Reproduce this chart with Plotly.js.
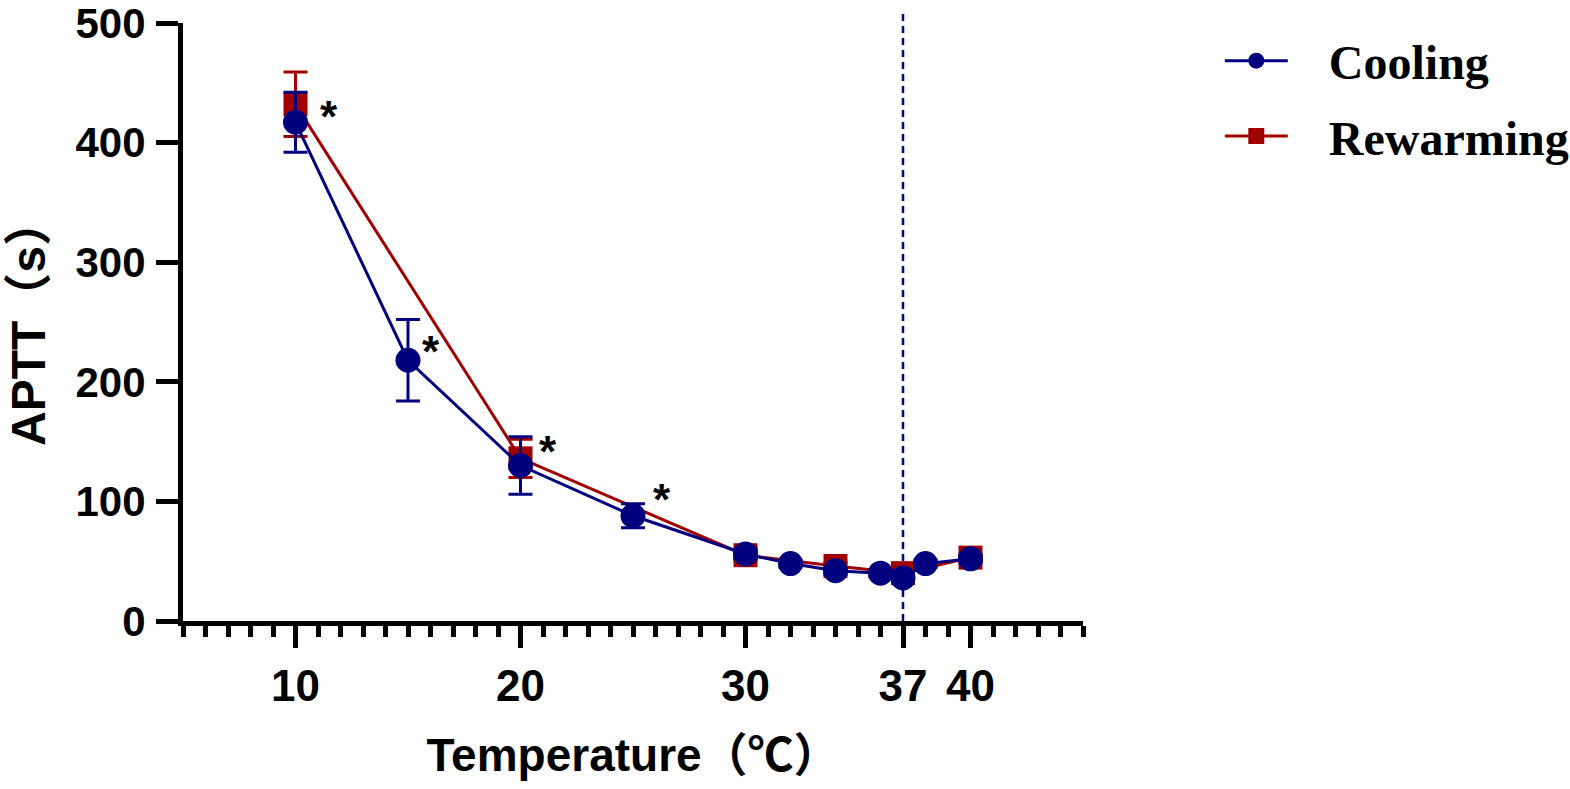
<!DOCTYPE html>
<html>
<head>
<meta charset="utf-8">
<script src="https://cdn.plot.ly/plotly-3.0.1.min.js"></script>
<style>
  html, body { margin: 0; padding: 0; background: #fff; }
  #aptt_plot { width: 1570px; height: 789px; }
</style>
</head>
<body>
<div id="aptt_plot"></div>
<script>
// temperatures (deg C) and APTT (s), mean and SD
var tempCool = [10, 15, 20, 25, 30, 32, 34, 36, 37, 38, 40];
var apttCool = [417, 218, 130, 88, 56, 48, 42, 40, 36, 48, 52];
var sdCool = [25, 34, 24, 10, 4, 3, 3, 3, 3, 3, 3];

var tempWarm = [10, 20, 30, 34, 37, 40];
var apttWarm = [432, 136, 55, 46, 40, 53];
var sdWarm = [27, 16, 4, 3, 3, 3];

// significance marks
var starX = [11.5, 16.0, 21.2, 26.3];
var starY = [422, 225, 142, 102];

var xTicks = [10, 20, 30, 37, 40];
var yTicks = [0, 100, 200, 300, 400, 500];

var blue = '#00007f';
var red = '#a10000';
var sans = 'Liberation Sans, Arial, Noto Sans CJK SC, sans-serif';
var pad = '\u00a0\u00a0\u00a0';

var warm = {
  x: tempWarm,
  y: apttWarm,
  name: pad + 'Rewarming',
  legendrank: 2,
  legendgroup: 'b',
  type: 'scatter',
  mode: 'lines+markers',
  line: {color: red, width: 3},
  marker: {symbol: 'square', size: 24, color: red},
  error_y: {type: 'data', array: sdWarm, visible: true, color: red, thickness: 3, width: 12}
};

var cool = {
  x: tempCool,
  y: apttCool,
  name: pad + 'Cooling',
  legendrank: 1,
  legendgroup: 'a',
  type: 'scatter',
  mode: 'lines+markers',
  line: {color: blue, width: 3},
  marker: {symbol: 'circle', size: 25, color: blue},
  error_y: {type: 'data', array: sdCool, visible: true, color: blue, thickness: 3, width: 12}
};

var data = [warm, cool];

var stars = starX.map(function (x, i) {
  return {
    x: x, y: starY[i], text: '*', showarrow: false,
    font: {family: sans, size: 44, color: '#000', weight: 'bold'}
  };
});

var layout = {
  width: 1570,
  height: 789,
  margin: {l: 183, r: 487, t: 23, b: 168, autoexpand: false},
  paper_bgcolor: '#fff',
  plot_bgcolor: '#fff',
  showlegend: true,
  legend: {
    x: 1.152, xanchor: 'left',
    y: 1.0, yanchor: 'top',
    font: {family: 'Liberation Serif, Times New Roman, serif', size: 48, color: '#000', weight: 'bold'},
    itemwidth: 63,
    tracegroupgap: 10,
    bgcolor: 'rgba(0,0,0,0)'
  },
  xaxis: {
    range: [5, 45],
    tickmode: 'array',
    tickvals: xTicks,
    ticktext: xTicks.map(String),
    showgrid: false,
    zeroline: false,
    showline: true,
    linecolor: '#000',
    linewidth: 5,
    ticks: 'outside',
    ticklen: 22,
    tickwidth: 5,
    tickcolor: '#000',
    ticklabelstandoff: 0,
    minor: {tickmode: 'linear', tick0: 0, dtick: 1, ticks: 'outside', ticklen: 11, tickwidth: 5, tickcolor: '#000', showgrid: false},
    tickfont: {family: sans, size: 44, color: '#000', weight: 'bold'},
    title: {text: 'Temperature（℃）', font: {family: sans, size: 46, color: '#000', weight: 'bold'}, standoff: 32},
    automargin: false
  },
  yaxis: {
    range: [0, 500],
    tickmode: 'array',
    tickvals: yTicks,
    showgrid: false,
    zeroline: false,
    showline: true,
    linecolor: '#000',
    linewidth: 5,
    ticks: 'outside',
    ticklen: 22,
    tickwidth: 5,
    tickcolor: '#000',
    ticklabelstandoff: 2,
    ticklabeloverflow: 'allow',
    tickfont: {family: sans, size: 42, color: '#000', weight: 'bold'},
    title: {text: 'APTT（s）', font: {family: sans, size: 48, color: '#000', weight: 'bold'}, standoff: 16},
    automargin: false
  },
  shapes: [{
    type: 'line', xref: 'x', yref: 'paper',
    x0: 37, x1: 37, y0: 0, y1: 1.02,
    line: {color: blue, width: 2.5, dash: '7px,5px'},
    layer: 'above'
  }],
  annotations: stars
};

var config = {
  staticPlot: true,
  displayModeBar: false
};

Plotly.newPlot('aptt_plot', data, layout, config);
</script>
</body>
</html>
